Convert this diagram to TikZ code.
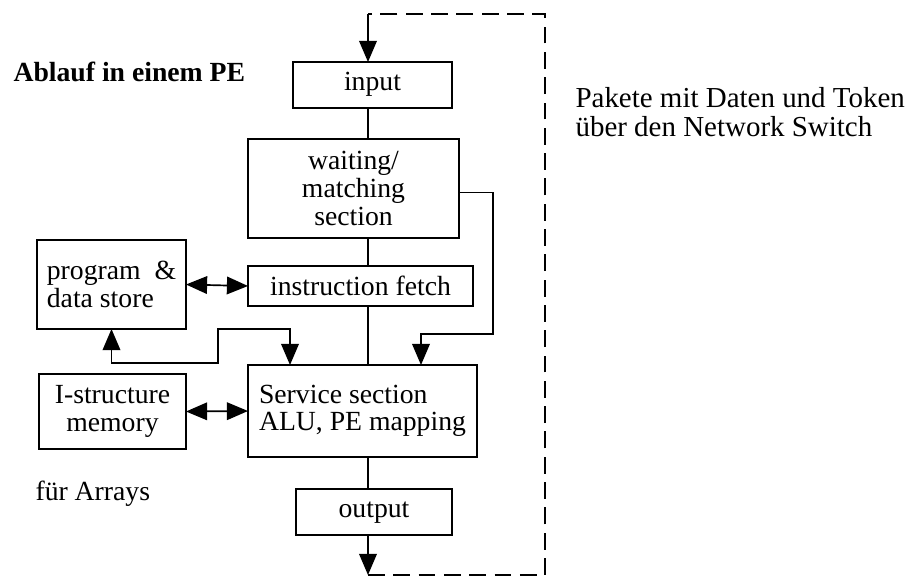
\documentclass[tikz,border=0pt]{standalone}
\usepackage{fontspec}
\setmainfont{Liberation Serif}
\usepackage{tikz}
\usetikzlibrary{arrows.meta}

\begin{document}
\begin{tikzpicture}[line width=1.2pt, >={Triangle[length=15pt,width=12.5pt]},
	font=\fontsize{19.7pt}{19.6pt}\selectfont,
	box/.style={draw, inner sep=0pt, outer sep=0pt, minimum width=#1},
	oneline/.style={text height=1.05em, text depth=0.22em},
	loop/.style={dash pattern=on 12pt off 6pt}]
	\useasboundingbox (0,0) rectangle (23.075,-14.575);
	\coordinate (col) at (9.2,0);

	\node[box=3.975cm, minimum height=1.15cm, oneline] (input) at (9.3125,-2.125) {input};
	\node[box=5.275cm, minimum height=2.475cm, align=center] (wait) at (8.8375,-4.7125) {waiting/\\matching\\section};
	\node[box=5.625cm, minimum height=1cm] (fetch) at (9.0125,-7.15) {instruction fetch};
	\node[box=3.725cm, minimum height=2.225cm, align=left] (prog) at (2.7875,-7.1125) {program \ \&\\data store};
	\node[box=5.725cm, minimum height=2.3cm, align=left] (service) at (9.0625,-10.275) {Service section\\ALU, PE mapping};
	\node[box=3.675cm, minimum height=1.875cm, align=center] (istruct) at (2.8125,-10.2875) {I-structure\\memory};
	\node[box=3.9cm, minimum height=1.15cm, oneline] (output) at (9.35,-12.8) {output};

	\node[anchor=west, font=\fontsize{19.7pt}{19.6pt}\selectfont\bfseries] (title) at (0.2,-1.8) {Ablauf in einem PE};
	\node[anchor=west] (arrays) at (0.75,-12.35) {für Arrays};
	\node[anchor=west, align=left, font=\fontsize{20.6pt}{21pt}\selectfont] (packets) at (14.25,-2.8) {Pakete mit Daten und Token\\über den Network Switch};

	\draw (input.south -| col) -- (wait.north -| col);
	\draw (wait.south -| col) -- (fetch.north -| col);
	\draw (fetch.south -| col) -- (service.north -| col);
	\draw (service.south -| col) -- (output.north -| col);

	\draw[<->] (prog.east) -- (fetch.west);
	\draw[<->] (istruct.east) -- (service.west);
	\draw[<->] (prog.south) |- (5.45,-9.075) |- (7.25,-8.225) -- (7.25,0 |- service.north);
	\draw[->] (wait.east) ++(0,-0.1) -| (12.325,-8.35) -| (10.525,0 |- service.north);

	\coordinate (bl) at (9.2,-14.375);
	\coordinate (tl) at (9.2,-0.35);
	\draw[->] (output.south -| col) -- (bl);
	\draw[loop] (bl) -| (13.625,-0.35) -- (tl);
	\draw[->] (tl) -- (input.north -| col);
\end{tikzpicture}
\end{document}
